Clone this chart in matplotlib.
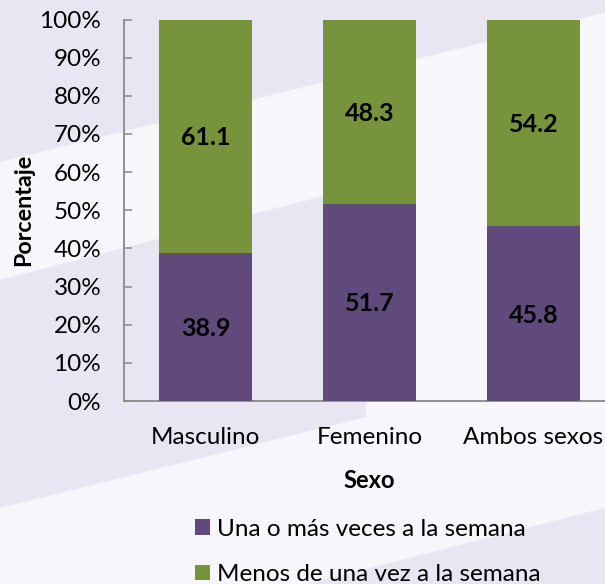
import matplotlib
matplotlib.use("Agg")
import matplotlib.pyplot as plt
from matplotlib.patches import Polygon, Patch
import numpy as np

categories = ["Masculino", "Femenino", "Ambos sexos"]
una_o_mas = [38.9, 51.7, 45.8]
menos_de_una = [61.1, 48.3, 54.2]
series_names = ["Una o más veces a la semana", "Menos de una vez a la semana"]
yticks = [0, 10, 20, 30, 40, 50, 60, 70, 80, 90, 100]
ytick_labels = [f"{v}%" for v in yticks]

PURPLE = "#604A7B"
GREEN = "#77933C"
LAV = "#E8E6F2"
LIGHT = "#F7F7FB"

plt.rcParams['font.family'] = ['Lato', 'DejaVu Sans']

W, H = 605, 584
fig = plt.figure(figsize=(W / 100, H / 100), dpi=100)
fig.patch.set_facecolor(LIGHT)

def px(pts):
    return [(x / W, 1 - y / H) for x, y in pts]

# background decoration
bg_shapes = [
    [(0, 0), (W, 0), (W, 162 - 0.247 * W), (0, 162)],
    [(0, 280), (366, 280 - 0.26 * 366), (366, 417), (0, 508)],
    [(W, 662 - 0.254 * W), (W, H), ((662 - H) / 0.254, H)],
]
for s in bg_shapes:
    fig.patches.append(Polygon(px(s), closed=True, transform=fig.transFigure,
                               facecolor=LAV, edgecolor='none', zorder=-10))

ax = fig.add_axes([123.5 / W, 1 - 401 / H, 492 / W, 381.5 / H])
ax.set_facecolor('none')
ax.set_zorder(5)

x = np.arange(len(categories))
bw = 0.567
ax.bar(x, una_o_mas, bw, color=PURPLE, label=series_names[0], zorder=3)
ax.bar(x, menos_de_una, bw, bottom=una_o_mas, color=GREEN, label=series_names[1], zorder=3)

for i in range(len(categories)):
    ax.text(x[i], una_o_mas[i] / 2 - 0.4, f"{una_o_mas[i]:.1f}", ha='center', va='center',
            fontsize=18, fontweight='bold', color='black', zorder=4)
    ax.text(x[i], una_o_mas[i] + menos_de_una[i] / 2 - 0.4, f"{menos_de_una[i]:.1f}", ha='center',
            va='center', fontsize=18, fontweight='bold', color='black', zorder=4)

ax.set_xlim(-0.5, 2.5)
ax.set_ylim(0, 100)
ax.set_yticks(yticks)
ax.set_yticklabels(ytick_labels)
ax.set_xticks(x)
ax.set_xticklabels(categories)
for s in ['top', 'right']:
    ax.spines[s].set_visible(False)
for s in ['left', 'bottom']:
    ax.spines[s].set_color('#898989')
    ax.spines[s].set_linewidth(1.3)
ax.tick_params(axis='y', direction='in', length=5.5, width=1.1, color='#898989',
               labelsize=17.5, pad=16)
ax.tick_params(axis='x', length=0, labelsize=17.5, pad=19)

ax.set_ylabel("Porcentaje", fontsize=16.8, fontweight='bold', labelpad=4)
ax.set_xlabel("Sexo", fontsize=17, fontweight='bold', labelpad=15)

handles = [Patch(facecolor=PURPLE), Patch(facecolor=GREEN)]
fig.legend(handles, series_names, loc='upper left', bbox_to_anchor=(185 / W, 1 - 509 / H),
           frameon=False, fontsize=17.5, handlelength=0.62, handleheight=0.62,
           handletextpad=0.3, labelspacing=1.0, borderaxespad=0)

fig.savefig("out.png", dpi=100, facecolor=fig.get_facecolor())
